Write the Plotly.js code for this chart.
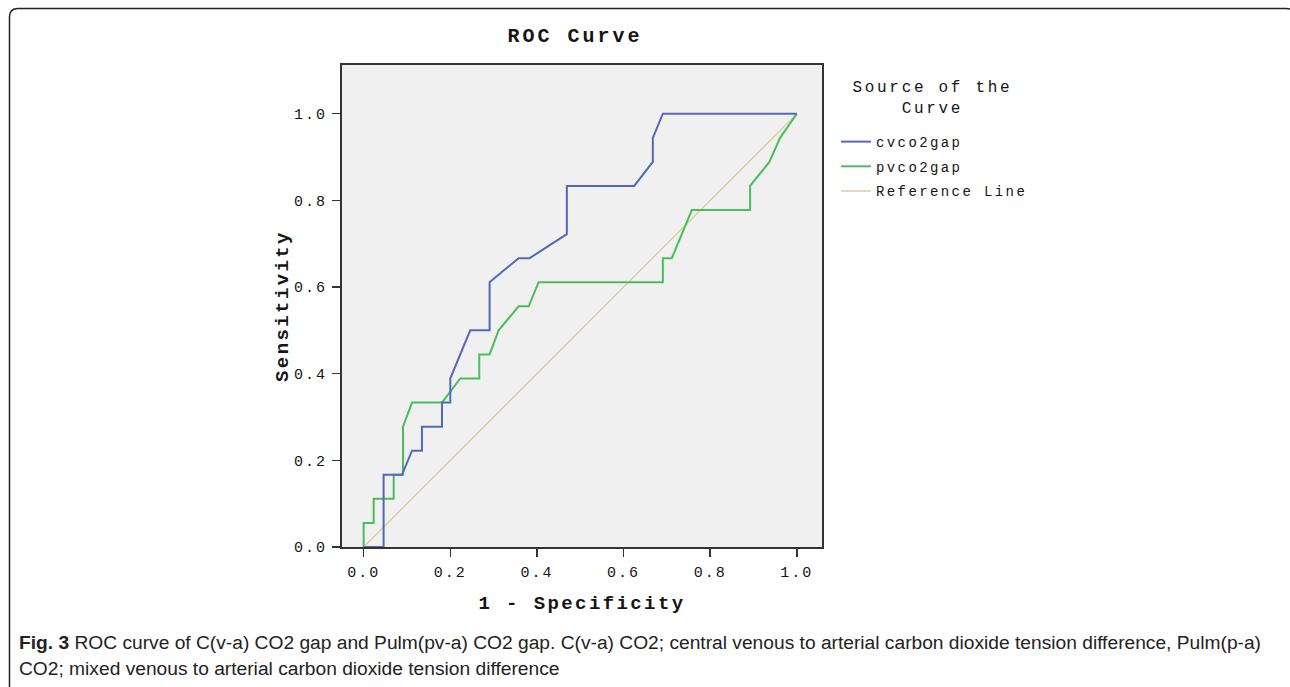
<!DOCTYPE html>
<html>
<head>
<meta charset="utf-8">
<script src="https://cdn.plot.ly/plotly-3.0.1.min.js"></script>
<style>
  html, body { margin: 0; padding: 0; background: #ffffff; }
  #chart { width: 1290px; height: 687px; }
  .gtitle { letter-spacing: 3px; }
  .xtitle, .ytitle { letter-spacing: 2.4px; }
  .xtick text, .ytick text { letter-spacing: 2px; }
  .legendtext { letter-spacing: 2.4px; }
</style>
</head>
<body>
<div id="chart"></div>
<script>
// ---- data ----
const cvFpr = [0, 0.046, 0.046, 0.0885, 0.1116, 0.1346, 0.1346, 0.1808, 0.1808, 0.200, 0.200, 0.246, 0.2907, 0.2907, 0.3577, 0.383, 0.469, 0.469, 0.6245, 0.6675, 0.6675, 0.6906, 1.0];
const cvTpr = [0, 0, 0.1667, 0.1667, 0.2222, 0.2222, 0.2778, 0.2778, 0.3333, 0.3333, 0.3889, 0.5, 0.5, 0.6111, 0.6667, 0.6667, 0.7222, 0.8333, 0.8333, 0.8889, 0.9444, 1.0, 1.0];

const pvFpr = [0, 0, 0.0231, 0.0231, 0.0693, 0.0693, 0.0908, 0.0908, 0.1116, 0.1808, 0.223, 0.2669, 0.2669, 0.2907, 0.3115, 0.3577, 0.3808, 0.4038, 0.6906, 0.6906, 0.7113, 0.7575, 0.892, 0.892, 0.9366, 0.9612, 1.0];
const pvTpr = [0, 0.0556, 0.0556, 0.1111, 0.1111, 0.1667, 0.1667, 0.2778, 0.3333, 0.3333, 0.3889, 0.3889, 0.4444, 0.4444, 0.5, 0.5556, 0.5556, 0.6111, 0.6111, 0.6667, 0.6667, 0.7778, 0.7778, 0.8333, 0.8889, 0.9444, 1.0];

const refX = [0, 1];
const refY = [0, 1];

const seriesNames = ['cvco2gap', 'pvco2gap', 'Reference Line'];
const tickVals = [0, 0.2, 0.4, 0.6, 0.8, 1.0];
const tickText = ['0.0', '0.2', '0.4', '0.6', '0.8', '1.0'];

const chartTitle = 'ROC Curve';
const xTitle = '1 - Specificity';
const yTitle = 'Sensitivity';
const legendTitle = 'Source of the<br>Curve';
const captionLine1 = '<b>Fig. 3</b> ROC curve of C(v-a) CO2 gap and Pulm(pv-a) CO2 gap. C(v-a) CO2; central venous to arterial carbon dioxide tension difference, Pulm(p-a)';
const captionLine2 = 'CO2; mixed venous to arterial carbon dioxide tension difference';

// ---- layout helpers (pixel -> paper) ----
const W = 1290, H = 687;
const M = {l: 342, r: 468, t: 65, b: 140};
const PW = W - M.l - M.r, PH = H - M.t - M.b;
const px = v => (v - M.l) / PW;
const py = v => (H - M.b - v) / PH;

const mono = 'Liberation Mono, DejaVu Sans Mono, monospace';
const ink = '#151515';

const traces = [
  {x: refX, y: refY, type: 'scatter', mode: 'lines', name: seriesNames[2],
   line: {color: '#d8d2a0', width: 1.5}, legendrank: 3, legendgroup: 'c'},
  {x: pvFpr, y: pvTpr, type: 'scatter', mode: 'lines', name: seriesNames[1],
   line: {color: '#4cbd5b', width: 2}, legendrank: 2, legendgroup: 'b'},
  {x: cvFpr, y: cvTpr, type: 'scatter', mode: 'lines', name: seriesNames[0],
   line: {color: '#5468ba', width: 2}, legendrank: 1, legendgroup: 'a'}
];

const framePath =
  `M ${px(9.5)},${py(700)} L ${px(9.5)},${py(17)} Q ${px(9.5)},${py(8.5)} ${px(18)},${py(8.5)} ` +
  `L ${px(1286)},${py(8.5)} Q ${px(1296)},${py(8.5)} ${px(1296)},${py(18.5)} L ${px(1296)},${py(700)}`;

const layout = {
  width: W, height: H,
  margin: M,
  paper_bgcolor: '#ffffff',
  plot_bgcolor: '#f0f0f0',
  showlegend: true,
  title: {
    text: chartTitle,
    font: {family: mono, size: 20, color: ink, weight: 'bold'},
    x: 575 / W, xanchor: 'center', xref: 'container',
    y: 1 - 35 / H, yanchor: 'middle', yref: 'container'
  },
  xaxis: {
    range: [-0.05, 1.058],
    tickvals: tickVals, ticktext: tickText,
    ticks: 'outside', ticklen: 8, tickwidth: 1.5, tickcolor: '#333',
    showgrid: false, zeroline: false,
    showline: true, mirror: true, linecolor: '#333', linewidth: 2,
    tickfont: {family: mono, size: 15, color: ink},
    ticklabelstandoff: 2,
    title: {text: xTitle, font: {family: mono, size: 19, color: ink, weight: 'bold'}, standoff: 15},
    fixedrange: true
  },
  yaxis: {
    range: [0, 1.1125],
    tickvals: tickVals, ticktext: tickText,
    ticks: 'outside', ticklen: 8, tickwidth: 1.5, tickcolor: '#333',
    showgrid: false, zeroline: false,
    showline: true, mirror: true, linecolor: '#333', linewidth: 2,
    tickfont: {family: mono, size: 15, color: ink},
    ticklabelstandoff: 2,
    title: {text: yTitle, font: {family: mono, size: 19, color: ink, weight: 'bold'}, standoff: 0},
    fixedrange: true
  },
  legend: {
    x: px(836), xanchor: 'left', y: py(126), yanchor: 'top',
    bgcolor: 'rgba(0,0,0,0)', borderwidth: 0,
    font: {family: mono, size: 14, color: ink},
    traceorder: 'grouped', tracegroupgap: 3.5, itemwidth: 30
  },
  shapes: [{
    type: 'path', xref: 'paper', yref: 'paper', path: framePath,
    line: {color: '#222', width: 1.5}, fillcolor: 'rgba(0,0,0,0)'
  }],
  annotations: [
    {text: legendTitle, xref: 'paper', yref: 'paper', x: px(932), y: py(98),
     xanchor: 'center', yanchor: 'middle', showarrow: false, align: 'center',
     font: {family: mono, size: 16, color: ink}},
    {text: captionLine1, xref: 'paper', yref: 'paper', x: px(17), y: py(642),
     xanchor: 'left', yanchor: 'middle', showarrow: false, align: 'left',
     font: {family: 'Liberation Sans, Arial, sans-serif', size: 19.2, color: '#222'}},
    {text: captionLine2, xref: 'paper', yref: 'paper', x: px(17), y: py(668),
     xanchor: 'left', yanchor: 'middle', showarrow: false, align: 'left',
     font: {family: 'Liberation Sans, Arial, sans-serif', size: 19.2, color: '#222'}}
  ]
};

Plotly.newPlot('chart', traces, layout, {displayModeBar: false, staticPlot: true}).then(() => {
  // letter-spacing for the legend-title annotation text
  document.querySelectorAll('.annotation-text').forEach((t, i) => {
    if (i === 0) t.style.letterSpacing = '2.7px';
  });
});
</script>
</body>
</html>
